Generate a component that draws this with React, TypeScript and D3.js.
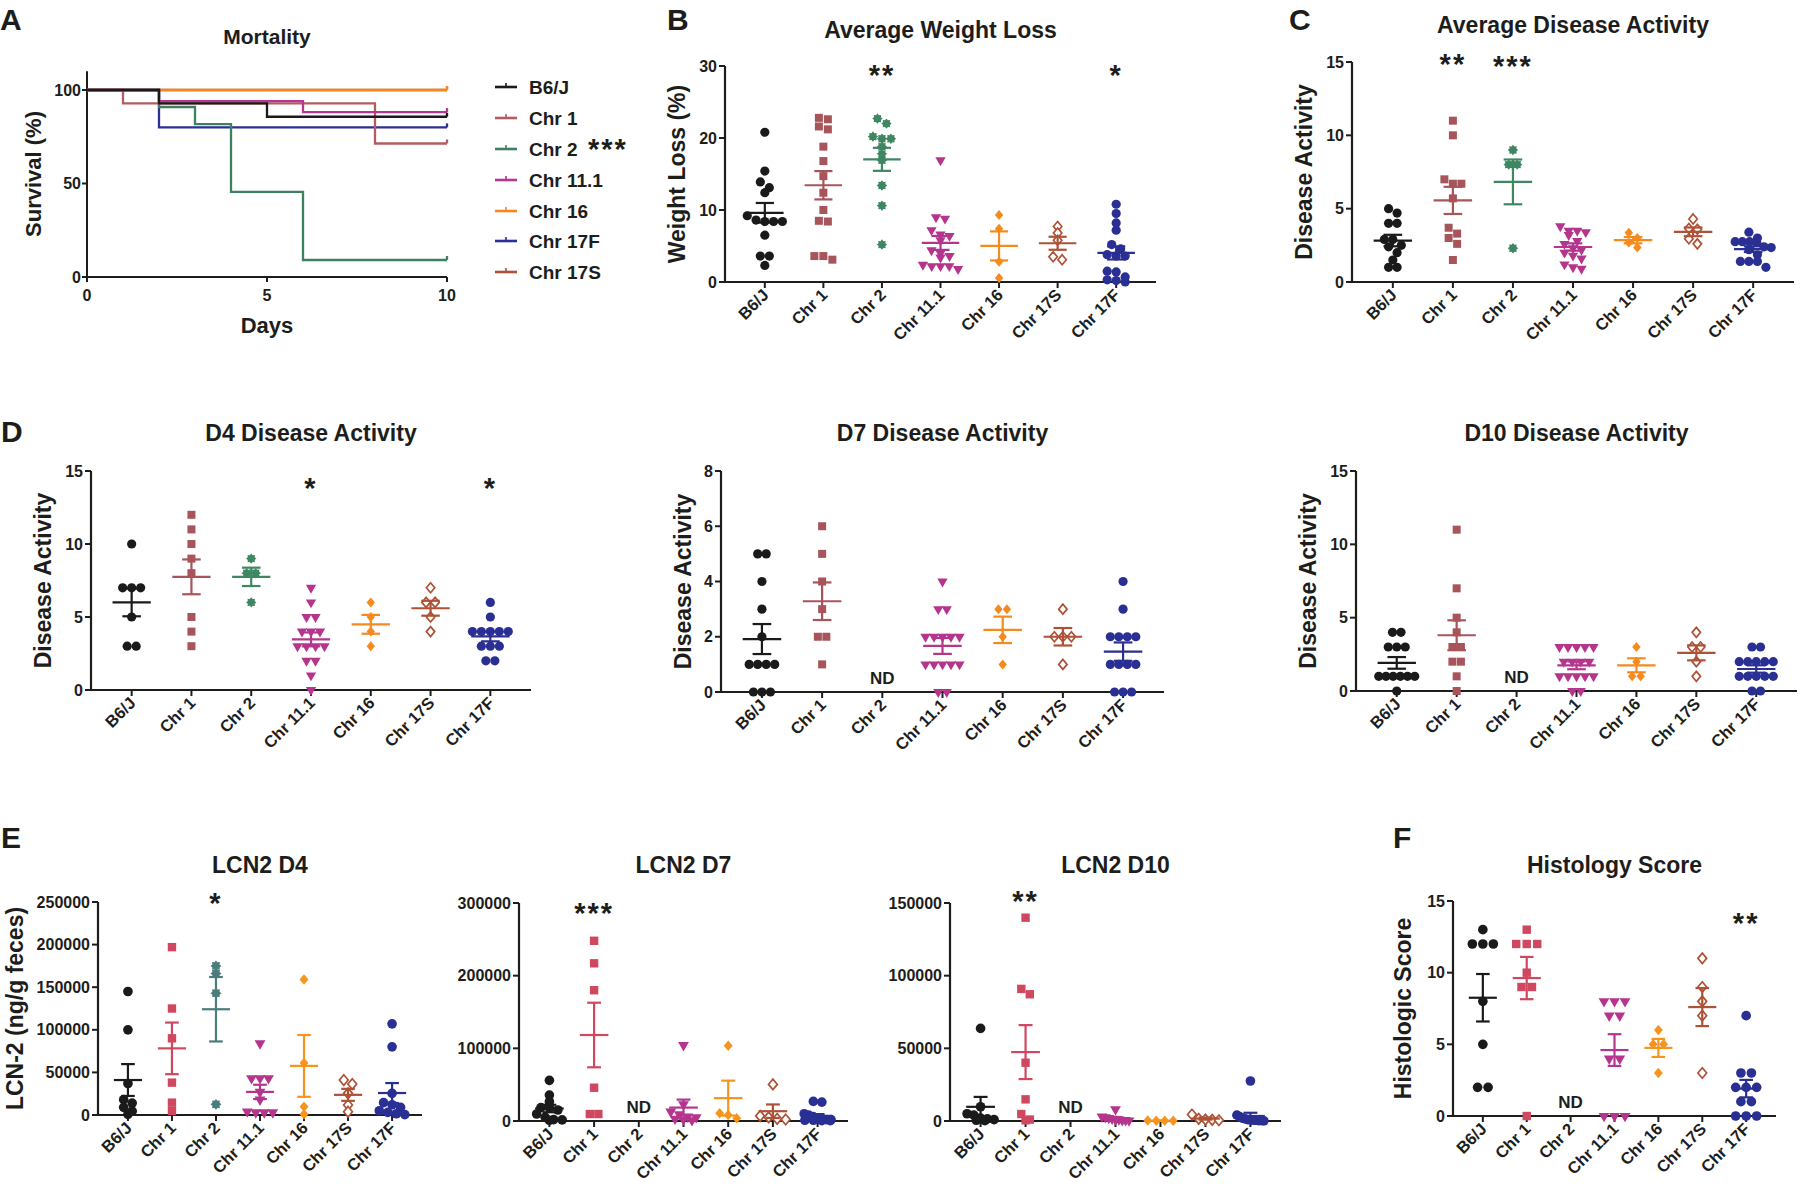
import React from 'react';
import * as d3 from 'd3';

const FONT = '"Liberation Sans", Arial, sans-serif';
const INK = '#1d1d1b';

const groups = ['B6/J', 'Chr 1', 'Chr 2', 'Chr 11.1', 'Chr 16', 'Chr 17S', 'Chr 17F'];
const shapes = ['circle', 'square', 'star', 'tri', 'diamond', 'odiamond', 'circle'];
const colorsTop = ['#1a1a1a', '#a8545b', '#3e8762', '#b5358d', '#f58a1f', '#ad5236', '#2a2f93'];
const colorsLow = ['#1a1a1a', '#cf4860', '#4a7d7c', '#b5358d', '#f7941d', '#ad5236', '#2a2f93'];

// mortality (survival %), step points [day, %]
const survLabels = ['B6/J', 'Chr 1', 'Chr 2', 'Chr 11.1', 'Chr 16', 'Chr 17F', 'Chr 17S'];
const survColors = ['#1a1a1a', '#b25c62', '#3f8060', '#b5378f', '#f7861f', '#2b2f96', '#a9513b'];
const survB6J = [[0, 100], [2, 92.9], [5, 85.7], [10, 85.7]];
const survChr1 = [[0, 100], [1, 92.9], [8, 71.4], [10, 71.4]];
const survChr2 = [[0, 100], [2, 90.9], [3, 81.8], [4, 45.5], [6, 9.1], [10, 9.1]];
const survChr11 = [[0, 100], [2, 94.1], [6, 88.2], [10, 88.2]];
const survChr16 = [[0, 100], [10, 100]];
const survChr17F = [[0, 100], [2, 80], [10, 80]];
const survChr17S = [[0, 100], [10, 100]];
const survAll = [survB6J, survChr1, survChr2, survChr11, survChr16, survChr17F, survChr17S];

// scatter data, one list per group in `groups` order
const weightLoss = [
  [20.8, 15.4, 13.9, 13.1, 12.4, 9.2, 8.4, 8.4, 8.4, 8.6, 6.5, 3.6, 3.6, 2.3],
  [22.8, 21.6, 22.6, 21.2, 18.8, 16.8, 14.7, 12.4, 10.0, 8.5, 8.4, 3.1, 3.6, 3.6],
  [22.0, 22.7, 19.9, 20.2, 19.9, 18.8, 17.8, 16.9, 13.4, 10.6, 5.2],
  [16.9, 9.0, 8.8, 7.2, 6.6, 6.4, 5.8, 4.4, 4.0, 3.6, 3.4, 2.4, 2.2, 2.2, 1.8, 2.2],
  [9.3, 7.4, 2.8, 0.55],
  [7.7, 6.8, 5.8, 3.1, 3.5],
  [10.8, 9.5, 8.2, 7.2, 5.2, 4.6, 3.6, 3.8, 3.6, 1.4, 1.5, 0.7, 0.0, 0.2, 0.3],
];
const avgDisease = [
  [4.7, 5.0, 4.0, 4.0, 2.9, 2.9, 2.5, 2.4, 2.0, 1.5, 1.0, 1.0],
  [11.0, 10.0, 7.0, 6.7, 6.7, 5.7, 3.7, 3.3, 3.0, 2.6, 1.5],
  [9.0, 8.0, 8.0, 2.3],
  [3.8, 3.5, 3.5, 3.4, 3.2, 2.8, 2.6, 2.3, 2.2, 2.0, 1.8, 1.6, 1.2, 1.0, 0.9],
  [3.35, 3.0, 2.7, 2.35],
  [4.3, 3.65, 3.6, 2.95, 2.6],
  [3.4, 3.0, 2.75, 2.75, 2.75, 2.7, 2.4, 2.35, 2.2, 1.85, 1.4, 1.4, 1.4, 1.0],
];
const d4Disease = [
  [10, 7, 7, 7, 5, 3, 3],
  [12, 11, 10, 9, 8, 5, 4, 3],
  [9, 8, 8, 6],
  [7, 6, 5, 5, 4, 4, 4, 3, 3, 3, 3, 2, 2, 1, 0],
  [6, 5, 4, 3],
  [7, 6, 6, 5, 4],
  [6, 5, 4, 4, 4, 4, 4, 3, 3, 3, 2, 2],
];
const d7Disease = [
  [5, 5, 4, 3, 2, 1, 1, 1, 1, 0, 0, 0],
  [6, 5, 4, 3, 2, 2, 1],
  [],
  [4, 3, 3, 2, 2, 2, 2, 2, 1, 1, 1, 1, 1, 0, 0],
  [3, 3, 2, 1],
  [3, 2, 2, 2, 1],
  [4, 3, 2, 2, 2, 2, 1, 1, 1, 1, 0, 0, 0],
];
const d10Disease = [
  [4, 4, 3, 3, 3, 1, 1, 1, 1, 1, 1, 0],
  [11, 7, 5, 4, 3, 3, 2, 2, 1, 0],
  [],
  [3, 3, 3, 3, 3, 2, 2, 2, 2, 1, 1, 1, 1, 1, 0, 0],
  [3, 2, 1, 1],
  [4, 3, 3, 2, 1],
  [3, 3, 2, 2, 2, 2, 2, 1, 1, 1, 1, 1, 0, 0],
];
const lcnD4 = [
  [145000, 100000, 37000, 18000, 14000, 9000, 4500, 800],
  [197000, 125000, 90000, 38000, 14500, 4700],
  [175000, 166000, 143000, 12500],
  [84000, 43000, 43000, 43000, 27000, 18000, 4000, 3000, 3000, 3000],
  [159000, 61000, 9800, 800],
  [41000, 36300, 25400, 11700, 3900],
  [107000, 80000, 25400, 14500, 12000, 9000, 5000, 3000, 1500, 500],
];
const lcnD7 = [
  [56000, 35700, 26600, 18300, 18000, 15100, 9600, 5000, 2000, 1500, 1000],
  [248000, 217000, 180000, 45800, 9600, 9600],
  [],
  [104400, 23000, 12800, 9000, 6000, 5000, 3000, 2000, 1000],
  [103500, 10500, 8200, 3700],
  [50400, 7000, 5000, 3000, 2000],
  [27000, 26000, 10000, 8000, 6000, 4000, 3000, 2000, 2000, 1000, 1000, 500, 500],
];
const lcnD10 = [
  [63700, 9800, 5000, 4000, 2000, 1500, 1000, 500, 300],
  [139900, 90900, 87200, 40100, 14900, 4800, 1000, 500],
  [],
  [8000, 3000, 2500, 2000, 1500, 1000, 1000, 500, 500, 300],
  [300, 200, 200, 100],
  [4500, 1500, 1000, 800, 500],
  [27500, 4000, 3000, 2000, 1500, 1000, 800, 500, 500, 300, 200, 100],
];
const histology = [
  [13, 12, 12, 12, 8, 5, 2, 2],
  [13, 12, 12, 12, 10, 9, 9, 0],
  [],
  [8, 8, 8, 7, 7, 4, 4, 0, 0, 0],
  [6, 5, 5, 3],
  [11, 9, 8, 7, 3],
  [7, 3, 3, 2, 2, 2, 1, 1, 0, 0, 0],
];

type Star = { g: string; t: string; cy: number };
type Cfg = {
  data: number[][]; left: number; right: number; top: number; bottom: number;
  yMax: number; yTicks: number[]; title: string; titleY: number;
  ylabel?: string; ylabelX?: number; letter?: string; letterX?: number; letterY?: number;
  stars: Star[]; colors: string[]; spacing: number; ms: number;
};

const starPath = (ro: number, ri: number) => {
  const pts: string[] = [];
  for (let i = 0; i < 16; i++) {
    const r = i % 2 ? ri : ro;
    const a = (i * Math.PI) / 8 - Math.PI / 2;
    pts.push(`${(r * Math.cos(a)).toFixed(2)},${(r * Math.sin(a)).toFixed(2)}`);
  }
  return 'M' + pts.join('L') + 'Z';
};

function Marker({ shape, color, x, y, s }: { shape: string; color: string; x: number; y: number; s: number }) {
  const t = `translate(${x},${y})`;
  if (shape === 'circle') return <circle cx={x} cy={y} r={4.6 * s} fill={color} />;
  if (shape === 'square') return <rect x={x - 4 * s} y={y - 4 * s} width={8 * s} height={8 * s} fill={color} />;
  if (shape === 'star') return <path transform={t} d={starPath(5.2 * s, 3.7 * s)} fill={color} />;
  if (shape === 'tri') return <path transform={t + ' rotate(180)'} d={d3.symbol(d3.symbolTriangle, 46 * s * s)() || ''} fill={color} />;
  const w = 4.2 * s, h = 5 * s;
  const d = `M0,${-h}L${w},0L0,${h}L${-w},0Z`;
  if (shape === 'diamond') return <path transform={t} d={d} fill={color} />;
  return <path transform={t} d={d} fill="#fff" stroke={color} strokeWidth={1.7} />;
}

function layoutPoints(vals: number[], y: (v: number) => number, cx: number, spacing: number, maxHalf: number) {
  const sorted = vals.slice().sort((a, b) => b - a);
  const rows: number[][] = [];
  for (const v of sorted) {
    const last = rows[rows.length - 1];
    if (last && Math.abs(y(last[0]) - y(v)) < 6) last.push(v);
    else rows.push([v]);
  }
  const pts: { x: number; y: number }[] = [];
  rows.forEach((r) => {
    const k = r.length;
    let sp = spacing;
    if (k > 1 && ((k - 1) * sp) / 2 > maxHalf) sp = (2 * maxHalf) / (k - 1);
    r.forEach((v, i) => pts.push({ x: cx + (i - (k - 1) / 2) * sp, y: y(v) }));
  });
  return pts;
}

function Scatter({ c }: { c: Cfg }) {
  const x = d3.scalePoint<string>().domain(groups).range([c.left, c.right]).padding(0.68);
  const y = d3.scaleLinear().domain([0, c.yMax]).range([c.bottom, c.top]);
  const step = x.step();
  const mid = (c.left + c.right) / 2;
  const meanHalf = step * 0.32;
  const capHalf = step * 0.155;

  return (
    <g fontFamily={FONT} fill={INK}>
      {c.letter && (
        <text x={c.letterX} y={c.letterY} fontSize={30} fontWeight="bold">{c.letter}</text>
      )}
      <text x={mid} y={c.titleY} textAnchor="middle" fontSize={23} fontWeight="bold">{c.title}</text>
      {c.ylabel && (
        <text transform={`translate(${c.ylabelX},${(c.top + c.bottom) / 2}) rotate(-90)`}
          textAnchor="middle" dominantBaseline="central" fontSize={23} fontWeight="bold">{c.ylabel}</text>
      )}
      {/* axes */}
      <line x1={c.left} x2={c.left} y1={y(c.yMax)} y2={c.bottom + 1} stroke={INK} strokeWidth={2.2} />
      <line x1={c.left - 1} x2={c.right} y1={c.bottom} y2={c.bottom} stroke={INK} strokeWidth={2.2} />
      {c.yTicks.map((t) => (
        <g key={t}>
          <line x1={c.left - 6} x2={c.left} y1={y(t)} y2={y(t)} stroke={INK} strokeWidth={2} />
          <text x={c.left - 8} y={y(t)} textAnchor="end" dominantBaseline="central" fontSize={16} fontWeight="bold">
            {d3.format('d')(t)}
          </text>
        </g>
      ))}
      {groups.map((g) => (
        <g key={g}>
          <line x1={x(g)} x2={x(g)} y1={c.bottom} y2={c.bottom + 6} stroke={INK} strokeWidth={2} />
          <text transform={`translate(${(x(g) as number) + 5},${c.bottom + 14}) rotate(-45)`}
            textAnchor="end" fontSize={16.5} fontWeight="bold">{g}</text>
        </g>
      ))}
      {/* points + mean ± SEM */}
      {groups.map((g, gi) => {
        const vals = c.data[gi];
        const cx = x(g) as number;
        if (!vals.length) {
          return <text key={g} x={cx} y={c.bottom - 8} textAnchor="middle" fontSize={17} fontWeight="bold">ND</text>;
        }
        const pts = layoutPoints(vals, y, cx, c.spacing, step * 0.3);
        const m = d3.mean(vals) as number;
        const sem = (d3.deviation(vals) || 0) / Math.sqrt(vals.length);
        const col = c.colors[gi];
        return (
          <g key={g}>
            {pts.map((p, i) => (
              <Marker key={i} shape={shapes[gi]} color={col} x={p.x} y={p.y} s={c.ms} />
            ))}
            <g stroke={col} strokeWidth={2.2}>
              <line x1={cx - meanHalf} x2={cx + meanHalf} y1={y(m)} y2={y(m)} />
              <line x1={cx} x2={cx} y1={y(m + sem)} y2={y(Math.max(0, m - sem))} />
              <line x1={cx - capHalf} x2={cx + capHalf} y1={y(m + sem)} y2={y(m + sem)} />
              <line x1={cx - capHalf} x2={cx + capHalf} y1={y(Math.max(0, m - sem))} y2={y(Math.max(0, m - sem))} />
            </g>
          </g>
        );
      })}
      {c.stars.map((s) => (
        <text key={s.g} x={x(s.g)} y={s.cy + 16} textAnchor="middle" fontSize={29} fontWeight="bold"
          letterSpacing={2}>{s.t}</text>
      ))}
    </g>
  );
}

function Mortality() {
  const x = d3.scaleLinear().domain([0, 10]).range([87, 447]);
  const y = d3.scaleLinear().domain([0, 100]).range([277, 90]);
  const line = d3.line<number[]>().x((d) => x(d[0])).y((d) => y(d[1])).curve(d3.curveStepAfter);
  const order = [6, 4, 5, 2, 1, 3, 0];
  const legendY = [87, 118, 149, 180, 211, 241, 272];
  return (
    <g fontFamily={FONT} fill={INK}>
      <text x={0} y={30} fontSize={30} fontWeight="bold">A</text>
      <text x={267} y={44} textAnchor="middle" fontSize={21} fontWeight="bold">Mortality</text>
      <text x={267} y={333} textAnchor="middle" fontSize={22} fontWeight="bold">Days</text>
      <text transform="translate(33,174) rotate(-90)" textAnchor="middle" dominantBaseline="central"
        fontSize={22} fontWeight="bold">Survival (%)</text>
      <line x1={87} x2={87} y1={y(110)} y2={278} stroke={INK} strokeWidth={2} />
      <line x1={86} x2={447} y1={277} y2={277} stroke={INK} strokeWidth={2} />
      {[0, 50, 100].map((t) => (
        <g key={t}>
          <line x1={82} x2={87} y1={y(t)} y2={y(t)} stroke={INK} strokeWidth={2} />
          <text x={81} y={y(t)} textAnchor="end" dominantBaseline="central" fontSize={16} fontWeight="bold">{t}</text>
        </g>
      ))}
      {[0, 5, 10].map((t) => (
        <g key={t}>
          <line x1={x(t)} x2={x(t)} y1={277} y2={282} stroke={INK} strokeWidth={2} />
          <text x={x(t)} y={301} textAnchor="middle" fontSize={16} fontWeight="bold">{t}</text>
        </g>
      ))}
      {order.map((i) => {
        const s = survAll[i];
        const last = s[s.length - 1];
        return (
          <g key={i} stroke={survColors[i]} strokeWidth={2.3} fill="none">
            <path d={line(s) || ''} />
            <line x1={x(last[0])} x2={x(last[0])} y1={y(last[1]) - 4} y2={y(last[1])} />
          </g>
        );
      })}
      {survLabels.map((l, i) => (
        <g key={l}>
          <line x1={495} x2={517} y1={legendY[i]} y2={legendY[i]} stroke={survColors[i]} strokeWidth={2.6} />
          <line x1={506} x2={506} y1={legendY[i] - 4} y2={legendY[i]} stroke={survColors[i]} strokeWidth={1.6} />
          <text x={529} y={legendY[i] + 7} fontSize={19} fontWeight="bold">{l}</text>
        </g>
      ))}
      <text x={588} y={159} fontSize={29} fontWeight="bold" letterSpacing={2}>***</text>
    </g>
  );
}

const panels: Cfg[] = [
  {
    data: weightLoss, left: 725, right: 1156, top: 66, bottom: 282, yMax: 30, yTicks: [0, 10, 20, 30],
    title: 'Average Weight Loss', titleY: 38, ylabel: 'Weight Loss (%)', ylabelX: 677,
    letter: 'B', letterX: 667, letterY: 30,
    stars: [{ g: 'Chr 2', t: '**', cy: 69 }, { g: 'Chr 17F', t: '*', cy: 69 }],
    colors: colorsTop, spacing: 9, ms: 1,
  },
  {
    data: avgDisease, left: 1352, right: 1794, top: 62, bottom: 282, yMax: 15, yTicks: [0, 5, 10, 15],
    title: 'Average Disease Activity', titleY: 33, ylabel: 'Disease Activity', ylabelX: 1304,
    letter: 'C', letterX: 1289, letterY: 30,
    stars: [{ g: 'Chr 1', t: '**', cy: 58 }, { g: 'Chr 2', t: '***', cy: 60 }],
    colors: colorsTop, spacing: 8.5, ms: 1,
  },
  {
    data: d4Disease, left: 91, right: 531, top: 471, bottom: 690, yMax: 15, yTicks: [0, 5, 10, 15],
    title: 'D4 Disease Activity', titleY: 441, ylabel: 'Disease Activity', ylabelX: 43,
    letter: 'D', letterX: 1, letterY: 442,
    stars: [{ g: 'Chr 11.1', t: '*', cy: 482 }, { g: 'Chr 17F', t: '*', cy: 482 }],
    colors: colorsTop, spacing: 9, ms: 1,
  },
  {
    data: d7Disease, left: 721, right: 1164, top: 471, bottom: 692, yMax: 8, yTicks: [0, 2, 4, 6, 8],
    title: 'D7 Disease Activity', titleY: 441, ylabel: 'Disease Activity', ylabelX: 683,
    stars: [], colors: colorsTop, spacing: 8.5, ms: 1,
  },
  {
    data: d10Disease, left: 1356, right: 1797, top: 471, bottom: 691, yMax: 15, yTicks: [0, 5, 10, 15],
    title: 'D10 Disease Activity', titleY: 441, ylabel: 'Disease Activity', ylabelX: 1308,
    stars: [], colors: colorsTop, spacing: 8.5, ms: 1,
  },
  {
    data: lcnD4, left: 98, right: 422, top: 902, bottom: 1115, yMax: 250000,
    yTicks: [0, 50000, 100000, 150000, 200000, 250000],
    title: 'LCN2 D4', titleY: 873, ylabel: 'LCN-2 (ng/g feces)', ylabelX: 15,
    letter: 'E', letterX: 1, letterY: 848,
    stars: [{ g: 'Chr 2', t: '*', cy: 897 }], colors: colorsLow, spacing: 8.5, ms: 1.05,
  },
  {
    data: lcnD7, left: 519, right: 848, top: 903, bottom: 1121, yMax: 300000,
    yTicks: [0, 100000, 200000, 300000],
    title: 'LCN2 D7', titleY: 873,
    stars: [{ g: 'Chr 1', t: '***', cy: 907 }], colors: colorsLow, spacing: 8.5, ms: 1.05,
  },
  {
    data: lcnD10, left: 950, right: 1281, top: 903, bottom: 1121, yMax: 150000,
    yTicks: [0, 50000, 100000, 150000],
    title: 'LCN2 D10', titleY: 873,
    stars: [{ g: 'Chr 1', t: '**', cy: 895 }], colors: colorsLow, spacing: 8.5, ms: 1.05,
  },
  {
    data: histology, left: 1453, right: 1776, top: 901, bottom: 1116, yMax: 15, yTicks: [0, 5, 10, 15],
    title: 'Histology Score', titleY: 873, ylabel: 'Histologic Score', ylabelX: 1403,
    letter: 'F', letterX: 1393, letterY: 848,
    stars: [{ g: 'Chr 17F', t: '**', cy: 917 }], colors: colorsLow, spacing: 10.5, ms: 1.05,
  },
];

export default function App() {
  return (
    <svg width={1800} height={1193} style={{ position: 'absolute', left: 0, top: 0, background: '#fff' }}>
      <rect width={1800} height={1193} fill="#fff" />
      <Mortality />
      {panels.map((c) => (
        <Scatter key={c.title} c={c} />
      ))}
    </svg>
  );
}
